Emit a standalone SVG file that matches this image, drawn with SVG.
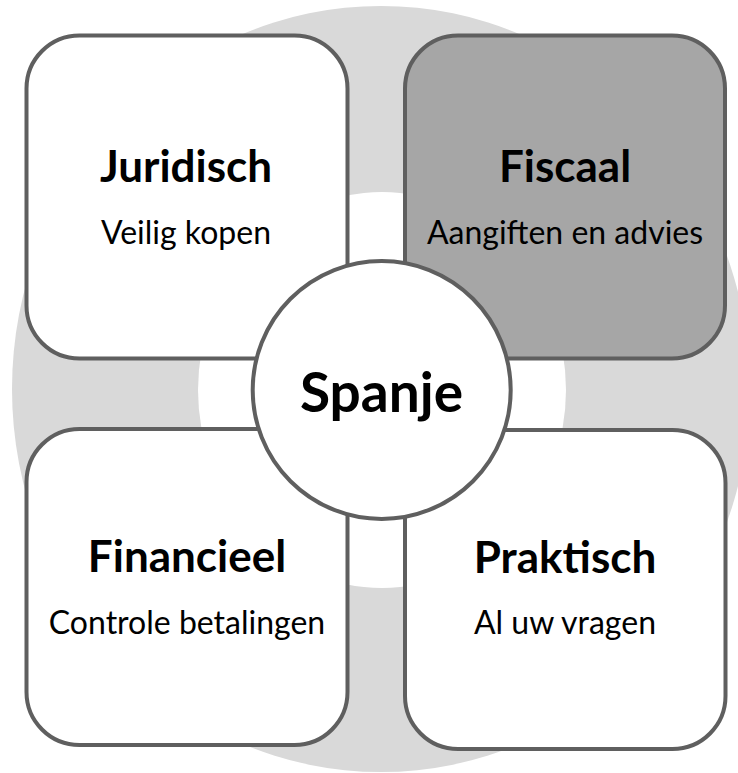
<svg xmlns="http://www.w3.org/2000/svg" width="738" height="773" viewBox="0 0 738 773">
<style>
.box{stroke:#5f5f5f;stroke-width:4;fill:#ffffff}
.dark{fill:#a6a6a6}
.t{font-family:Lato,"Open Sans",sans-serif;font-weight:bold;font-size:44px;fill:#000;text-anchor:middle}
.s{font-family:Lato,"Open Sans",sans-serif;font-size:32px;fill:#000;text-anchor:middle}
.c{font-family:Lato,"Open Sans",sans-serif;font-weight:bold;font-size:55px;fill:#000;text-anchor:middle}
</style>
<g id="ring">
<ellipse cx="381" cy="389" rx="369" ry="383" fill="#d9d9d9"/>
<ellipse cx="382" cy="390" rx="184" ry="198" fill="#ffffff"/>
</g>
<g id="connectors"></g>
<g id="juridisch">
<rect class="box" x="26.5" y="35.5" width="321" height="323" rx="53"/>
<text class="t" x="186" y="181.5">Juridisch</text>
<text class="s" x="186" y="244">Veilig kopen</text>
</g>
<g id="fiscaal">
<rect class="box dark" x="405" y="35.5" width="320" height="323" rx="53"/>
<text class="t" x="565" y="181.5">Fiscaal</text>
<text class="s" x="565" y="244">Aangiften en advies</text>
</g>
<g id="financieel">
<rect class="box" x="26.5" y="429" width="321" height="316" rx="53"/>
<text class="t" x="187" y="572">Financieel</text>
<text class="s" x="187" y="634">Controle betalingen</text>
</g>
<g id="praktisch">
<rect class="box" x="405" y="430" width="320.5" height="319" rx="53"/>
<text class="t" x="565" y="573">Praktisch</text>
<text class="s" x="565" y="633.5">Al uw vragen</text>
</g>
<g id="spanje">
<circle class="box" cx="381.7" cy="390" r="129"/>
<text class="c" x="381.5" y="412">Spanje</text>
</g>
</svg>
